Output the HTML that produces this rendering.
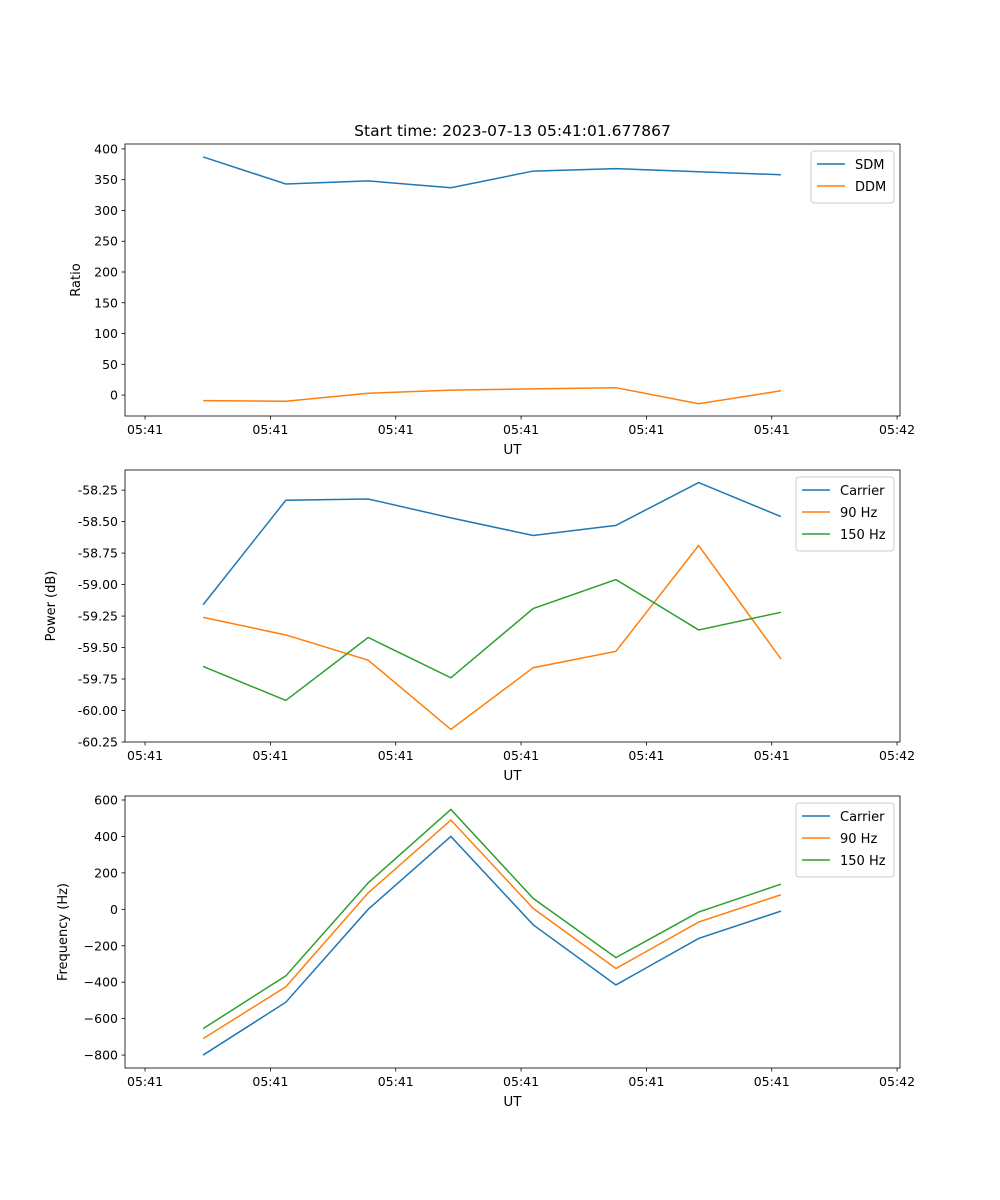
<!DOCTYPE html>
<html><head><meta charset="utf-8"><style>
body{margin:0;background:#fff}
svg{display:block;font-family:"DejaVu Sans","Liberation Sans",sans-serif}
</style></head><body>
<svg id="fig" width="1000" height="1200"></svg>
<script>
const times=[1.39,3.37,5.34,7.32,9.29,11.27,13.25,15.22];
const xTicks=[0,3,6,9,12,15,18];
const xTickLabels=["05:41","05:41","05:41","05:41","05:41","05:41","05:42"];
const sdm=[387,343,348,337,364,368,363,358];
const ddm=[-9,-10,3,8,10,12,-14,7];
const pCarrier=[-59.16,-58.33,-58.32,-58.47,-58.61,-58.53,-58.19,-58.46];
const p90=[-59.26,-59.40,-59.60,-60.15,-59.66,-59.53,-58.69,-59.59];
const p150=[-59.65,-59.92,-59.42,-59.74,-59.19,-58.96,-59.36,-59.22];
const fCarrier=[-800,-510,0,400,-85,-415,-160,-10];
const f90=[-710,-425,90,490,5,-325,-70,80];
const f150=[-655,-365,145,548,60,-265,-15,138];
const ratioTicks=[0,50,100,150,200,250,300,350,400];
const powerTicks=[-60.25,-60.00,-59.75,-59.50,-59.25,-59.00,-58.75,-58.50,-58.25];
const freqTicks=[-800,-600,-400,-200,0,200,400,600];

const NS="http://www.w3.org/2000/svg";
const svg=document.getElementById('fig');
function el(tag,attrs,parent){const e=document.createElementNS(NS,tag);for(const k in attrs)e.setAttribute(k,attrs[k]);(parent||svg).appendChild(e);return e;}
const L=125,R=900,xMin=-0.48,xMax=18.07;
const sx=v=>L+(v-xMin)/(xMax-xMin)*(R-L);
const colors=["#1f77b4","#ff7f0e","#2ca02c"];

function panel(name,top,bot,yMin,yMax,yTicks,fmt,ylabel,yOff,series,labels,legW){
  const g=el('g',{});
  
  
  const sy=v=>bot-(v-yMin)/(yMax-yMin)*(bot-top);
  series.forEach((s,i)=>{
    const pl=el('polyline',{points:s.map((v,j)=>sx(times[j])+','+sy(v)).join(' '),fill:'none',stroke:colors[i],'stroke-width':1.5},g);
    
    
  });
  const fr=el('rect',{x:L,y:top,width:R-L,height:bot-top,fill:'none',stroke:'#000','stroke-width':0.8},g);
  
  
  xTicks.forEach((t,i)=>{const x=sx(t);el('line',{x1:x,x2:x,y1:bot,y2:bot+3.5,stroke:'#000','stroke-width':0.8},g);
    const tx=el('text',{x:x,y:bot+18,'font-size':12.5,'text-anchor':'middle'},g);tx.textContent=xTickLabels[i];
    });
  yTicks.forEach(t=>{const y=sy(t);el('line',{x1:L,x2:L-3.5,y1:y,y2:y,stroke:'#000','stroke-width':0.8},g);
    const tx=el('text',{x:L-7,y:y+4.5,'font-size':12.5,'text-anchor':'end'},g);tx.textContent=fmt(t);
    });
  const xl=el('text',{x:(L+R)/2,y:bot+38,'font-size':13.5,'text-anchor':'middle'},g);xl.textContent='UT';
  
  const yx=L-yOff;
  const yl=el('text',{x:yx,y:(top+bot)/2,'font-size':13,'text-anchor':'middle',transform:`rotate(-90 ${yx} ${(top+bot)/2})`},g);yl.textContent=ylabel;
  
  const lg=el('g',{},g);
  
  const lx=R-6-legW, ly=top+7;
  el('rect',{x:lx,y:ly,width:legW,height:labels.length*22+8,rx:3,fill:'#fff',stroke:'#ccc','stroke-width':1},lg);
  labels.forEach((lab,i)=>{const y=ly+13+i*22;
    el('line',{x1:lx+6,x2:lx+34,y1:y,y2:y,stroke:colors[i],'stroke-width':1.5},lg);
    const t=el('text',{x:lx+44,y:y+5,'font-size':13},lg);t.textContent=lab;
    });
}
const title=el('text',{x:512.5,y:136,'font-size':15.5,'text-anchor':'middle'});
title.textContent='Start time: 2023-07-13 05:41:01.677867';


panel('ratio-panel',144,416,-34,408,ratioTicks,v=>String(v),'Ratio',45,[sdm,ddm],['SDM','DDM'],83);
panel('power-panel',470,742,-60.25,-58.09,powerTicks,v=>v.toFixed(2),'Power (dB)',70,[pCarrier,p90,p150],['Carrier','90 Hz','150 Hz'],98);
panel('frequency-panel',796,1068,-871,622,freqTicks,v=>String(v).replace('-','−'),'Frequency (Hz)',58,[fCarrier,f90,f150],['Carrier','90 Hz','150 Hz'],98);
</script>
</body></html>
